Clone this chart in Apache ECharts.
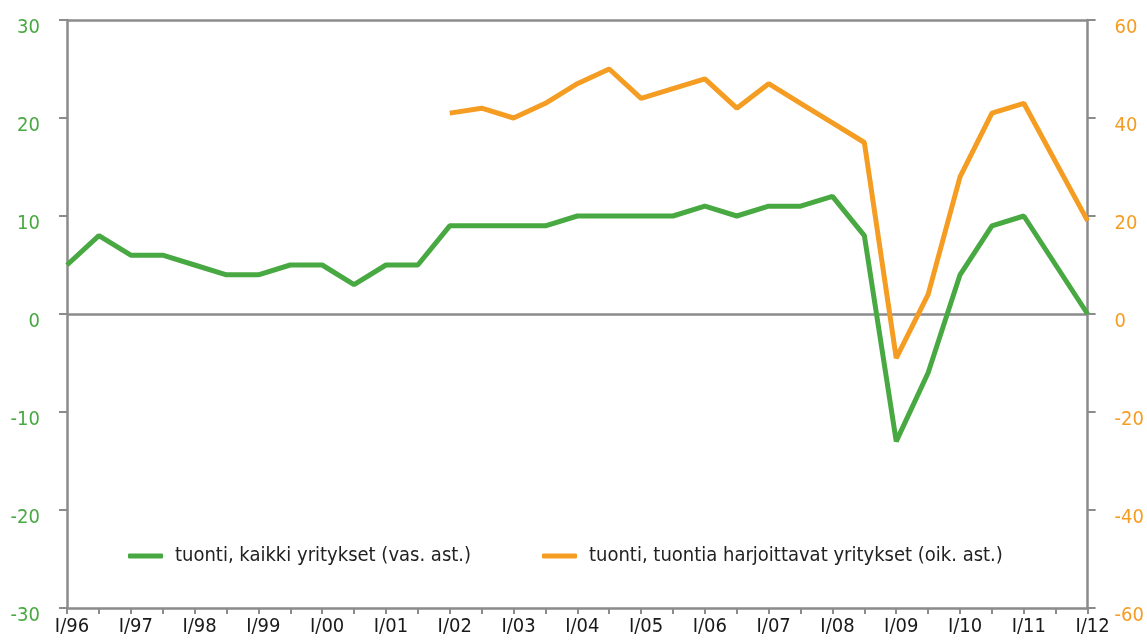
<!DOCTYPE html>
<html>
<head>
<meta charset="utf-8">
<script src="https://cdn.jsdelivr.net/npm/echarts@6/dist/echarts.min.js"></script>
<style>
  html, body { margin: 0; padding: 0; background: #fff; }
  #main { width: 1147px; height: 644px; }
</style>
</head>
<body>
<div id="main"></div>
<script>
// puolivuosijaksot I/96 ... I/12
var periods = [
  'I/96', 'II/96', 'I/97', 'II/97', 'I/98', 'II/98', 'I/99', 'II/99',
  'I/00', 'II/00', 'I/01', 'II/01', 'I/02', 'II/02', 'I/03', 'II/03',
  'I/04', 'II/04', 'I/05', 'II/05', 'I/06', 'II/06', 'I/07', 'II/07',
  'I/08', 'II/08', 'I/09', 'II/09', 'I/10', 'II/10', 'I/11', 'II/11', 'I/12'
];

// tuonti, kaikki yritykset (vasen asteikko)
var allFirms = [
  5, 8, 6, 6, 5, 4, 4, 5, 5, 3, 5, 5,
  9, 9, 9, 9, 10, 10, 10, 10, 11, 10, 11, 11,
  12, 8, -13, -6, 4, 9, 10, 5, 0
];

// tuonti, tuontia harjoittavat yritykset (oikea asteikko)
var importers = [
  null, null, null, null, null, null, null, null, null, null, null, null,
  41, 42, 40, 43, 47, 50, 44, 46, 48, 42, 47, 43,
  39, 35, -9, 4, 28, 41, 43, 31, 19
];

var leftTicks = [-30, -20, -10, 0, 10, 20, 30];
var rightTicks = [-60, -40, -20, 0, 20, 40, 60];

var nameAll = 'tuonti, kaikki yritykset (vas. ast.)';
var nameImp = 'tuonti, tuontia harjoittavat yritykset (oik. ast.)';

var green = '#48a942';
var orange = '#f59d23';
var gray = '#8b8b8d';
var none = 'rgba(0,0,0,0)';
var font = '"DejaVu Sans Condensed", "Liberation Sans Narrow", sans-serif';

var myChart = echarts.init(document.getElementById('main'));

var legendBase = {
  padding: 0,
  icon: 'roundRect',
  itemWidth: 35,
  itemHeight: 5,
  top: 546,
  textStyle: { fontFamily: font, fontSize: 20, color: '#222', padding: [0, 0, 0, 7] }
};

myChart.setOption({
  animation: false,
  backgroundColor: '#fff',
  grid: { left: 67, right: 58, top: 20, bottom: 36 },
  legend: [
    Object.assign({ data: [nameAll], left: 128 }, legendBase),
    Object.assign({ data: [nameImp], left: 542 }, legendBase)
  ],
  xAxis: {
    type: 'category',
    data: periods,
    boundaryGap: false,
    axisLine: { onZero: false, lineStyle: { color: gray, width: 2.5 } },
    axisTick: { interval: 0, length: 6, lineStyle: { color: gray, width: 2 } },
    axisLabel: {
      interval: 1,
      margin: 9,
      padding: [0, 0, 0, 10],
      fontFamily: font,
      fontSize: 20,
      color: '#1a1a1a'
    },
    splitLine: { show: false }
  },
  yAxis: [
    {
      type: 'value',
      min: leftTicks[0], max: leftTicks[leftTicks.length - 1], interval: 10,
      axisLine: { show: true, lineStyle: { color: gray, width: 2.5 } },
      axisTick: { show: true, length: 8, lineStyle: { color: gray, width: 2 } },
      axisLabel: {
        margin: 27, verticalAlign: 'top', lineHeight: 15,
        fontFamily: font, fontSize: 20, color: green
      },
      splitLine: {
        show: true,
        lineStyle: { color: [none, none, none, gray, none, none, gray], width: 2.5 }
      }
    },
    {
      type: 'value',
      min: rightTicks[0], max: rightTicks[rightTicks.length - 1], interval: 20,
      axisLine: { show: true, lineStyle: { color: gray, width: 2.5 } },
      axisTick: { show: true, length: 8, lineStyle: { color: gray, width: 2 } },
      axisLabel: {
        margin: 27, verticalAlign: 'top', lineHeight: 15,
        fontFamily: font, fontSize: 20, color: orange
      },
      splitLine: { show: false }
    }
  ],
  series: [
    {
      name: nameAll,
      type: 'line',
      yAxisIndex: 0,
      data: allFirms,
      showSymbol: false,
      symbol: 'none',
      itemStyle: { color: green },
      lineStyle: { color: green, width: 5 },
      z: 3
    },
    {
      name: nameImp,
      type: 'line',
      yAxisIndex: 1,
      data: importers,
      showSymbol: false,
      symbol: 'none',
      itemStyle: { color: orange },
      lineStyle: { color: orange, width: 5 },
      z: 4
    }
  ]
});
</script>
</body>
</html>
